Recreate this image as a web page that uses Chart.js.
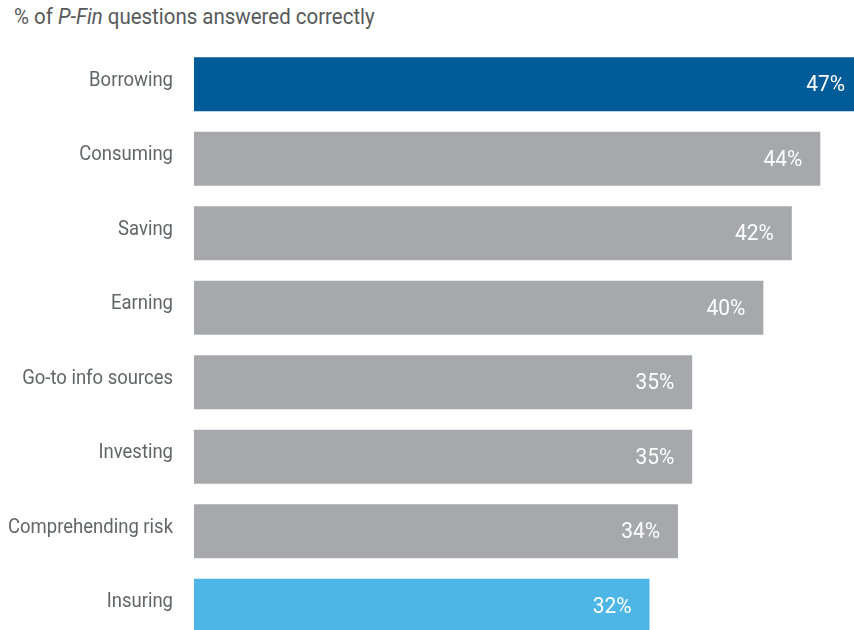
<!DOCTYPE html>
<html>
<head>
<meta charset="utf-8">
<script src="https://cdn.jsdelivr.net/npm/chart.js@4/dist/chart.umd.min.js"></script>
<style>
  html, body { margin: 0; padding: 0; background: #fff; }
  #page { position: relative; width: 854px; height: 630px; overflow: hidden; }
  #title {
    position: absolute; left: 14px; top: 4px;
    font-family: Roboto, "Liberation Sans", sans-serif;
    font-size: 22px; color: #58595b; white-space: nowrap;
    transform: scaleX(0.93); transform-origin: left top;
  }
  #pfin { position: absolute; left: 0; top: 0; }
</style>
</head>
<body>
<div id="page">
  <div id="title">% of <i>P-Fin</i> questions answered correctly</div>
  <canvas id="pfin" width="870" height="650"></canvas>
</div>
<script>
// topics and share of questions answered correctly (%)
const topics = ['Borrowing', 'Consuming', 'Saving', 'Earning', 'Go-to info sources', 'Investing', 'Comprehending risk', 'Insuring'];
const correct = [47, 44, 42, 40, 35, 35, 34, 32];
const barColors = ['#005b99', '#a7a8ab', '#a7a8ab', '#a7a8ab', '#a7a8ab', '#a7a8ab', '#a7a8ab', '#4db6e6'];

const FONT = 'Roboto, "Liberation Sans", sans-serif';

// draw horizontally squeezed text, right aligned at x
function narrowText(ctx, text, x, y, squeeze) {
  ctx.save();
  ctx.translate(x, y);
  ctx.scale(squeeze, 1);
  ctx.fillText(text, 0, 0);
  ctx.restore();
}

// category names left of the bars, values inside the bar ends
const barText = {
  id: 'barText',
  afterDatasetsDraw(chart) {
    const ctx = chart.ctx;
    const meta = chart.getDatasetMeta(0);
    const left = chart.chartArea.left;
    ctx.save();
    ctx.textAlign = 'right';
    ctx.textBaseline = 'middle';
    meta.data.forEach((bar, i) => {
      ctx.font = '21px ' + FONT;
      ctx.fillStyle = '#636466';
      narrowText(ctx, topics[i], left - 21, bar.y - 4, 0.88);
      ctx.font = '22px ' + FONT;
      ctx.fillStyle = '#ffffff';
      narrowText(ctx, correct[i] + '%', bar.x - 18, bar.y + 1.5, 0.95);
    });
    ctx.restore();
  }
};

new Chart(document.getElementById('pfin'), {
  type: 'bar',
  data: {
    labels: topics,
    datasets: [{
      data: correct,
      backgroundColor: barColors,
      borderWidth: 0,
      categoryPercentage: 1,
      barPercentage: 0.724
    }]
  },
  options: {
    indexAxis: 'y',
    responsive: false,
    animation: false,
    layout: { padding: { top: 47, right: 7, bottom: 7, left: 194 } },
    scales: {
      x: { min: 0, max: 47, display: false },
      y: { display: false }
    },
    plugins: {
      legend: { display: false },
      tooltip: { enabled: false }
    }
  },
  plugins: [barText]
});
</script>
</body>
</html>
